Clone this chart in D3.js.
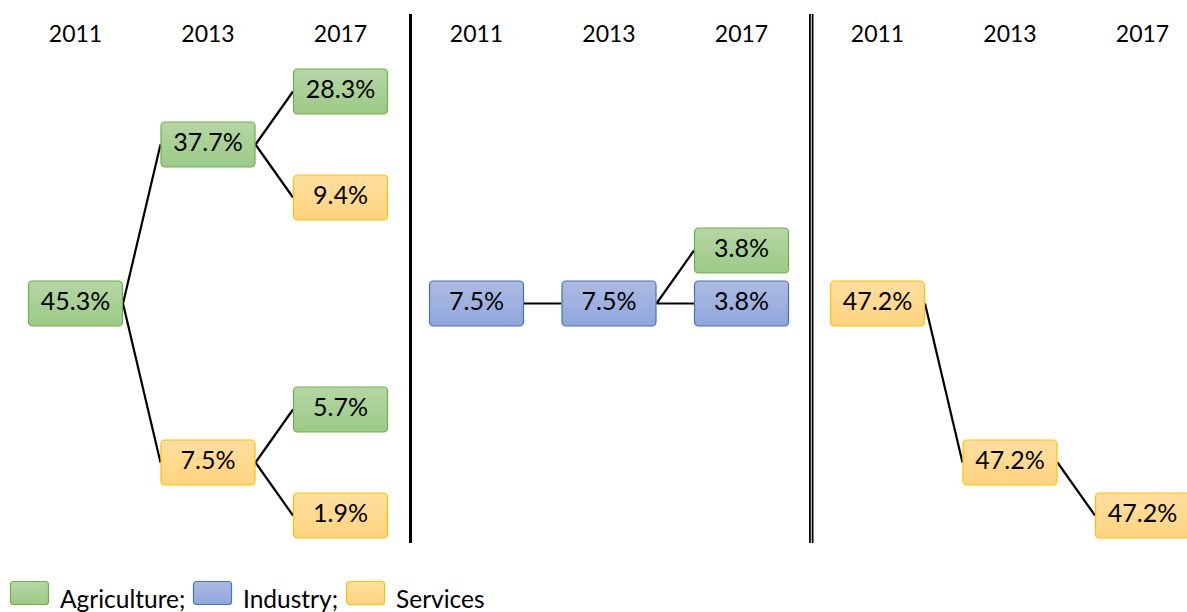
<!DOCTYPE html>
<html>
<head>
<meta charset="utf-8">
<script src="https://cdnjs.cloudflare.com/ajax/libs/d3/7.8.5/d3.min.js"></script>
<style>
  body { margin: 0; background: #fff; }
  svg { display: block; font-family: Lato, "Open Sans", sans-serif; }
</style>
</head>
<body>
<svg width="1187" height="612"></svg>
<script>
const svg = d3.select("svg");

const years = ["2011", "2013", "2017"];
const sectors = ["Agriculture", "Industry", "Services"];
const legendLabels = ["Agriculture;", "Industry;", "Services"];

// one panel per sector of origin; slot = row of the box (0 top .. 8 bottom)
const agricultureNodes = [
    { id: "a", year: "2011", slot: 4, sector: "Agriculture", value: 45.3 },
    { id: "b", year: "2013", slot: 1, sector: "Agriculture", value: 37.7 },
    { id: "c", year: "2013", slot: 7, sector: "Services", value: 7.5 },
    { id: "d", year: "2017", slot: 0, sector: "Agriculture", value: 28.3 },
    { id: "e", year: "2017", slot: 2, sector: "Services", value: 9.4 },
    { id: "f", year: "2017", slot: 6, sector: "Agriculture", value: 5.7 },
    { id: "g", year: "2017", slot: 8, sector: "Services", value: 1.9 }
];
const agricultureLinks = [["a", "b"], ["a", "c"], ["b", "d"], ["b", "e"], ["c", "f"], ["c", "g"]];

const industryNodes = [
    { id: "a", year: "2011", slot: 4, sector: "Industry", value: 7.5 },
    { id: "b", year: "2013", slot: 4, sector: "Industry", value: 7.5 },
    { id: "c", year: "2017", slot: 3, sector: "Agriculture", value: 3.8 },
    { id: "d", year: "2017", slot: 4, sector: "Industry", value: 3.8 }
];
const industryLinks = [["a", "b"], ["b", "c"], ["b", "d"]];

const servicesNodes = [
    { id: "a", year: "2011", slot: 4, sector: "Services", value: 47.2 },
    { id: "b", year: "2013", slot: 7, sector: "Services", value: 47.2 },
    { id: "c", year: "2017", slot: 8, sector: "Services", value: 47.2 }
];
const servicesLinks = [["a", "b"], ["b", "c"]];

const panels = [
    { sector: "Agriculture", nodes: agricultureNodes, links: agricultureLinks },
    { sector: "Industry", nodes: industryNodes, links: industryLinks },
    { sector: "Services", nodes: servicesNodes, links: servicesLinks }
];

const boxW = 95, boxH = 46;

const panelX = d3.scalePoint().domain(sectors).range([0, 802]);
const x = d3.scalePoint().domain(years).range([75.5, 340.5]);
const y = d3.scaleLinear().domain([0, 8]).range([91.5, 515.5]);

const fills = {
    Agriculture: { top: "#b5d7a5", bottom: "#9bca86", stroke: "#70ad47" },
    Industry: { top: "#adbbe2", bottom: "#8fa6dc", stroke: "#4472c4" },
    Services: { top: "#ffdf9f", bottom: "#ffd47f", stroke: "#ffc000" }
};

const defs = svg.append("defs");
sectors.forEach(s => {
    const g = defs.append("linearGradient")
        .attr("id", "grad-" + s)
        .attr("x1", 0).attr("y1", 0).attr("x2", 0).attr("y2", 1);
    g.append("stop").attr("offset", "0%").attr("stop-color", fills[s].top);
    g.append("stop").attr("offset", "100%").attr("stop-color", fills[s].bottom);
});

panels.forEach(p => {
    const g = svg.append("g").attr("transform", `translate(${panelX(p.sector)},0)`);

    // year headers
    g.selectAll("text.year")
        .data(years)
        .enter().append("text")
        .attr("class", "year")
        .attr("x", d => x(d))
        .attr("y", 42)
        .attr("text-anchor", "middle")
        .attr("font-size", 23)
        .attr("fill", "#000")
        .text(d => d);

    const byId = new Map(p.nodes.map(n => [n.id, n]));

    g.selectAll("line.link")
        .data(p.links)
        .enter().append("line")
        .attr("class", "link")
        .attr("x1", d => x(byId.get(d[0]).year) + boxW / 2)
        .attr("y1", d => y(byId.get(d[0]).slot))
        .attr("x2", d => x(byId.get(d[1]).year) - boxW / 2)
        .attr("y2", d => y(byId.get(d[1]).slot))
        .style("stroke", "#000")
        .style("stroke-width", 2.2);

    const node = g.selectAll("g.node")
        .data(p.nodes)
        .enter().append("g")
        .attr("class", "node")
        .attr("transform", d => `translate(${x(d.year)},${y(d.slot)})`);

    node.append("rect")
        .attr("x", -boxW / 2 + 0.5)
        .attr("y", -boxH / 2 + 0.5)
        .attr("width", boxW - 1)
        .attr("height", boxH - 1)
        .attr("rx", 4)
        .attr("fill", d => `url(#grad-${d.sector})`)
        .attr("stroke", d => fills[d.sector].stroke)
        .attr("stroke-width", 1.2);

    node.append("text")
        .attr("text-anchor", "middle")
        .attr("y", 6)
        .attr("font-size", 25)
        .attr("fill", "#000")
        .text(d => d.value.toFixed(1) + "%");
});

// dividers between panels
svg.append("line")
    .attr("x1", 410.5).attr("x2", 410.5)
    .attr("y1", 14).attr("y2", 543)
    .style("stroke", "#000").style("stroke-width", 3);
[809.9, 812.6].forEach(xx => {
    svg.append("line")
        .attr("x1", xx).attr("x2", xx)
        .attr("y1", 14).attr("y2", 543)
        .style("stroke", "#000").style("stroke-width", 1.8);
});

// legend
const legendX = [10, 193, 346];
const legend = svg.append("g")
    .selectAll("g")
    .data(sectors)
    .enter().append("g")
    .attr("transform", (d, i) => `translate(${legendX[i]},581)`);

legend.append("rect")
    .attr("x", 0.5).attr("y", 0.5)
    .attr("width", 38).attr("height", 23)
    .attr("rx", 3)
    .attr("fill", d => `url(#grad-${d})`)
    .attr("stroke", d => fills[d].stroke)
    .attr("stroke-width", 1.2);

legend.append("text")
    .attr("x", 50)
    .attr("y", 27)
    .attr("font-size", 24.5)
    .attr("fill", "#000")
    .text((d, i) => legendLabels[i]);
</script>
</body>
</html>
